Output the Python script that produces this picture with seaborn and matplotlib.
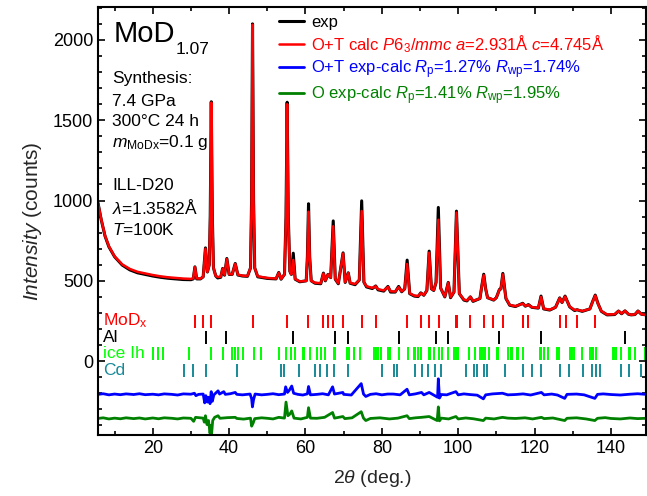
import numpy as np
import pandas as pd
import matplotlib
matplotlib.use("Agg")
import matplotlib.pyplot as plt
from matplotlib.ticker import MultipleLocator
import seaborn as sns

# ---------------- data ----------------
two_theta = [5.65, 6.5, 7.5, 8.5, 10.0, 12.0, 14.0, 16.0, 18.0, 20.0, 22.0, 24.0, 26.0, 28.0, 30.0,
             30.6, 31.04, 31.5, 32.5, 33.2, 33.8, 34.3, 34.8, 35.05, 35.32, 35.6, 35.9, 36.5, 37.0,
             37.8, 38.3, 38.8, 39.4, 40.0, 40.8, 41.6, 42.3, 43.5, 44.8, 45.6, 45.88, 46.13, 46.4,
             46.7, 47.5, 50.0, 52.3, 53.0, 53.6, 54.5, 54.9, 55.2, 55.5, 55.9, 56.3, 56.8, 57.3,
             58.5, 60.2, 60.5, 60.8, 61.1, 61.5, 62.5, 64.0, 64.7, 65.2, 65.9, 66.6, 67.27, 67.8,
             68.6, 69.85, 70.4, 71.2, 71.7, 73.0, 74.1, 74.72, 75.3, 76.0, 77.5, 78.4, 79.0, 80.5,
             81.6, 82.3, 83.5, 84.4, 85.2, 86.0, 86.63, 87.3, 88.5, 89.5, 90.2, 91.0, 91.8, 92.4,
             93.0, 93.6, 94.2, 94.8, 95.4, 96.5, 97.4, 98.0, 98.9, 99.55, 100.3, 101.5, 102.3,
             103.2, 103.9, 105.7, 106.2, 106.7, 107.2, 107.7, 109.3, 110.0, 110.8, 111.2, 111.7,
             112.5, 113.5, 115.0, 116.9, 117.6, 118.4, 119.3, 121.0, 121.7, 122.4, 124.0, 125.5,
             126.6, 127.2, 128.0, 129.2, 130.5, 131.1, 132.5, 134.5, 135.2, 135.9, 136.6, 137.5,
             139.0, 141.0, 142.0, 142.8, 143.7, 144.6, 145.3, 146.3, 147.1, 148.0, 149.2]
exp_counts = [985, 880, 778, 712, 650, 598, 568, 550, 540, 530, 522, 516, 512, 508, 507,
              512, 587, 512, 512, 525, 705, 555, 600, 900, 1615, 900, 580, 530, 518,
              522, 577, 535, 639, 540, 540, 608, 536, 530, 528, 580, 1000, 2100, 1000,
              580, 525, 515, 512, 552, 510, 540, 900, 1612, 900, 560, 540, 672, 510,
              494, 500, 650, 980, 650, 500, 485, 482, 548, 500, 540, 520, 873, 510,
              482, 674, 490, 550, 485, 476, 505, 998, 492, 462, 452, 468, 444, 436,
              465, 430, 430, 465, 432, 450, 629, 420, 405, 402, 425, 410, 440, 685,
              450, 440, 490, 957, 455, 400, 490, 395, 430, 934, 420, 380, 375,
              400, 372, 390, 470, 541, 450, 395, 380, 395, 446, 450, 546,
              390, 348, 340, 360, 342, 352, 335, 330, 405, 325, 318, 335,
              394, 365, 405, 338, 315, 320, 310, 325, 370, 411, 360, 310,
              288, 290, 312, 295, 313, 292, 288, 290, 312, 292, 288]
calc_counts = [985, 882, 780, 715, 652, 602, 574, 556, 546, 536, 528, 522, 518, 514, 512,
               515, 585, 515, 514, 525, 700, 555, 600, 890, 1610, 890, 580, 530, 524,
               525, 575, 538, 635, 542, 540, 605, 538, 532, 530, 580, 990, 2095, 990,
               580, 528, 518, 514, 550, 512, 540, 890, 1600, 890, 560, 540, 630, 512,
               496, 500, 640, 930, 640, 500, 488, 485, 545, 502, 540, 520, 840, 512,
               485, 670, 492, 548, 487, 480, 505, 935, 492, 466, 456, 466, 448, 440,
               462, 435, 433, 460, 434, 450, 605, 422, 408, 405, 423, 412, 440, 675,
               450, 442, 490, 880, 455, 402, 488, 398, 430, 925, 420, 383, 378,
               400, 375, 390, 468, 535, 448, 395, 382, 395, 444, 450, 540,
               392, 350, 342, 358, 344, 350, 336, 332, 400, 327, 320, 335,
               392, 365, 402, 340, 318, 320, 312, 325, 368, 408, 358, 312,
               290, 292, 312, 296, 313, 293, 289, 291, 312, 292, 288]

diff_ot_x = [5.65, 7, 8.5, 10, 11.5, 13, 15, 16.5, 18, 20, 21.5, 23, 25, 26.5, 28, 30, 30.9, 31.3,
             32, 33.2, 33.6, 33.9, 34.3, 34.6, 35.0, 35.3, 35.6, 36.0, 37.1, 37.5, 38.6, 39.0,
             40.3, 41.6, 42.0, 43.5, 45.5, 45.9, 46.1, 46.4, 46.8, 48.5, 50, 51.5, 53, 54.5, 54.8,
             55.3, 55.8, 56.4, 56.9, 58, 59.3, 60.5, 60.8, 61.3, 63, 64.5, 66, 67.1, 67.6, 69.8,
             70, 72, 74.6, 75.2, 75.8, 77, 78.5, 80, 81.5, 83, 84.8, 86.6, 87.2, 88.8, 90.4, 91,
             92.4, 94.6, 94.8, 95.1, 95.6, 97, 99.4, 100, 101.5, 103, 105, 106.6, 107.2, 109,
             111.6, 113, 115, 117, 119, 121.8, 122.5, 124.5, 126, 127.9, 128.5, 131, 133, 135.8,
             136.5, 138, 140, 142.5, 145, 147, 149.2]
diff_ot_y = [-207, -203, -210, -205, -209, -204, -208, -203, -209, -206, -210, -204, -207, -211,
             -204, -206, -200, -215, -207, -205, -260, -215, -255, -225, -265, -190, -250, -210,
             -185, -205, -190, -207, -203, -195, -207, -210, -205, -235, -285, -240, -205, -210,
             -207, -203, -209, -205, -160, -195, -180, -155, -200, -207, -211, -204, -158, -210,
             -207, -203, -210, -160, -205, -195, -207, -211, -140, -205, -220, -207, -203, -210,
             -205, -205, -210, -175, -210, -204, -195, -210, -195, -225, -110, -230, -208, -210,
             -190, -210, -204, -208, -212, -235, -210, -204, -200, -210, -208, -204, -211, -195,
             -210, -205, -211, -232, -207, -205, -210, -232, -207, -204, -208, -211, -206, -203,
             -207]
diff_o_x = [5.65, 7, 8.5, 10, 11.5, 13, 15, 16.5, 18, 20, 21.5, 23, 25, 26.5, 28, 30, 30.7, 31.2,
            33.2, 33.5, 33.8, 34.2, 34.6, 35.0, 35.2, 35.4, 35.7, 36.2, 37.1, 37.6, 39.5, 41.6, 42,
            43.8, 45.6, 45.9, 46.3, 46.7, 48.5, 50, 51.5, 53, 54.5, 54.9, 55.4, 55.9, 56.4, 57,
            58.8, 60.5, 60.8, 61.3, 63, 65, 67.1, 67.6, 69.8, 70.3, 72.2, 74.6, 75.2, 75.8, 77,
            79.5, 82, 84.2, 86.6, 87.2, 88.8, 90.4, 92.4, 94.5, 94.8, 95.1, 95.6, 97.5, 99.4, 100,
            102, 104, 106.6, 107.2, 109.4, 111.6, 113, 115, 117.5, 119.5, 121.8, 122.5, 124.8,
            127.9, 128.5, 131, 133.5, 135.8, 136.5, 138.5, 140, 142.5, 145, 147, 149.2]
diff_o_y = [-357, -353, -360, -355, -359, -353, -358, -354, -360, -354, -359, -353, -356, -360,
            -354, -356, -375, -350, -355, -380, -340, -395, -370, -450, -400, -455, -370, -350,
            -340, -356, -352, -350, -357, -361, -355, -405, -385, -358, -353, -356, -360, -350,
            -355, -255, -340, -330, -310, -355, -360, -350, -290, -355, -356, -350, -320, -355,
            -345, -358, -353, -315, -355, -370, -357, -353, -360, -355, -340, -358, -353, -350,
            -345, -370, -285, -372, -355, -360, -345, -360, -354, -359, -370, -355, -360, -350,
            -355, -357, -353, -360, -350, -358, -354, -370, -356, -353, -360, -370, -356, -352,
            -357, -360, -354, -358, -356]

refl_mod = [31.04, 33.26, 35.33, 46.13, 55.21, 60.78, 64.69, 66.01, 67.27, 69.85, 74.72, 78.38,
            86.63, 90.13, 92.46, 94.88, 99.55, 99.62, 103.18, 106.75, 109.24, 111.76, 116.89,
            116.97, 118.36, 126.66, 128.17, 131.08, 135.9]
refl_al = [33.84, 39.27, 56.75, 67.73, 71.19, 84.46, 94.17, 97.42, 110.80, 121.62, 143.7]
refl_ice = [20.08, 21.38, 22.78, 29.50, 35.16, 38.34, 40.82, 41.51, 42.31, 43.55, 46.53, 48.40,
            52.99, 54.95, 56.14, 57.16, 59.40, 59.63, 61.22, 63.07, 64.18, 65.20, 67.43, 67.63,
            70.94, 71.35, 72.60, 72.67, 74.32, 77.91, 78.38, 78.57, 78.91, 79.78, 81.71, 81.91,
            82.10, 84.48, 86.86, 88.44, 88.69, 89.43, 90.29, 92.40, 92.58, 93.77, 94.95, 95.80,
            97.34, 98.94, 99.32, 99.60, 99.94, 102.75, 102.96, 104.38, 105.59, 106.08, 106.47,
            107.11, 108.08, 110.14, 110.24, 110.43, 112.98, 113.77, 114.20, 115.51, 115.59,
            117.03, 121.35, 121.79, 122.51, 123.52, 125.84, 126.10, 126.32, 129.31, 129.55,
            129.94, 130.42, 132.46, 134.65, 135.00, 135.30, 136.05, 136.06, 140.50, 140.79,
            141.36, 142.71, 144.69, 145.02, 146.19, 149.05]
refl_cd = [28.23, 30.66, 33.85, 42.16, 53.66, 54.50, 58.37, 62.51, 63.85, 65.73, 67.39, 71.22,
           80.02, 83.28, 83.98, 88.76, 90.48, 92.00, 94.03, 95.60, 102.13, 104.26, 104.96,
           106.73, 107.60, 112.15, 117.04, 119.32, 121.72, 126.63, 129.00, 132.65, 135.00,
           136.18, 137.18, 142.77, 144.80, 147.88]

legend_labels = ["exp",
                 r"O+T calc $\mathit{P}$6$_\mathregular{3}$/$\mathit{mmc}$ $\mathit{a}$=2.931Å $\mathit{c}$=4.745Å",
                 r"O+T exp-calc $\mathit{R}_\mathregular{p}$=1.27% $\mathit{R}_\mathregular{wp}$=1.74%",
                 r"O exp-calc $\mathit{R}_\mathregular{p}$=1.41% $\mathit{R}_\mathregular{wp}$=1.95%"]
phase_labels = [r"MoD$_\mathregular{x}$", "Al", "ice Ih", "Cd"]

# ---------------- style ----------------
sns.set_theme(style="ticks")
plt.rcParams.update({
    "font.family": ["Liberation Sans", "DejaVu Sans"],
    "mathtext.fontset": "custom",
    "mathtext.rm": "Liberation Sans",
    "mathtext.it": "Liberation Sans:italic",
    "mathtext.bf": "Liberation Sans:bold",
    "axes.linewidth": 1.5,
    "axes.edgecolor": "black",
    "text.color": "black",
    "xtick.color": "black",
    "ytick.color": "black",
})

W, H = 647, 496
fig = plt.figure(figsize=(W / 100, H / 100), dpi=100)
L, R, T, B = 98, 646, 7, 435
ax = fig.add_axes([L / W, 1 - B / H, (R - L) / W, (B - T) / H])


def pax(x, y):
    return ((x - L) / (R - L), (B - y) / (B - T))


main = pd.DataFrame({"x": two_theta, "exp": exp_counts, "calc": calc_counts})
d1 = pd.DataFrame({"x": diff_ot_x, "y": diff_ot_y})
d2 = pd.DataFrame({"x": diff_o_x, "y": diff_o_y})

sns.lineplot(data=main, x="x", y="exp", color="black", lw=2.2, sort=False, estimator=None,
             ax=ax, label=legend_labels[0])
sns.lineplot(data=main, x="x", y="calc", color="#ff0000", lw=1.8, sort=False, estimator=None,
             ax=ax, label=legend_labels[1])
sns.lineplot(data=d1, x="x", y="y", color="#0000ff", lw=2.0, sort=False, estimator=None,
             ax=ax, label=legend_labels[2])
sns.lineplot(data=d2, x="x", y="y", color="#008000", lw=2.0, sort=False, estimator=None,
             ax=ax, label=legend_labels[3])

rows = [(refl_mod, 205, 290, "#ff0000"), (refl_al, 105, 190, "black"),
        (refl_ice, 5, 90, "#00ff00"), (refl_cd, -100, -15, "#178a98")]
for pos, lo, hi, col in rows:
    ax.vlines(pos, lo, hi, colors=col, lw=1.4)

label_y = [250, 148, 48, -57]
label_c = ["#ff0000", "black", "#00ff00", "#178a98"]
tr = ax.get_yaxis_transform()
for lab, yy, col in zip(phase_labels, label_y, label_c):
    ax.text(0.009, yy, lab, transform=tr, color=col, fontsize=12.5, va="center", ha="left")

ax.set_xlim(5.65, 149.2)
ax.set_ylim(-460, 2205)
ax.xaxis.set_major_locator(MultipleLocator(20))
ax.xaxis.set_minor_locator(MultipleLocator(10))
ax.yaxis.set_major_locator(MultipleLocator(500))
ax.yaxis.set_minor_locator(MultipleLocator(100))
ax.tick_params(which="both", direction="in", top=True, right=True, labelsize=13, width=1.2)
ax.tick_params(which="major", length=5)
ax.tick_params(which="minor", length=3)
ax.set_xlabel(r"2$\mathit{\theta}$ (deg.)", fontsize=14, labelpad=8)
ax.set_ylabel(r"$\mathit{Intensity}$ (counts)", fontsize=15, labelpad=6)

leg = ax.legend(loc="upper left", bbox_to_anchor=(0.325, 0.99), frameon=False, fontsize=12,
                handlelength=1.45, handletextpad=0.45, labelspacing=0.2, borderaxespad=0,
                borderpad=0.2)
for txt, col in zip(leg.get_texts(), ["black", "#ff0000", "#0000ff", "#008000"]):
    txt.set_color(col)

# annotations
ax.text(*pax(114, 42), "MoD", transform=ax.transAxes, fontsize=21, va="baseline", ha="left")
ax.text(*pax(176, 54), "1.07", transform=ax.transAxes, fontsize=12.5, va="baseline", ha="left")
notes = [(79, "Synthesis:"), (101, "7.4 GPa"), (122, "300°C 24 h"),
         (143, r"$\mathit{m}_\mathregular{MoDx}$=0.1 g"), (185, "ILL-D20"),
         (208, r"$\lambda$=1.3582Å"), (230, r"$\mathit{T}$=100K")]
for yy, s in notes:
    ax.text(*pax(112, yy), s, transform=ax.transAxes, fontsize=12.5, va="center", ha="left")

fig.savefig("out.png", dpi=100)
